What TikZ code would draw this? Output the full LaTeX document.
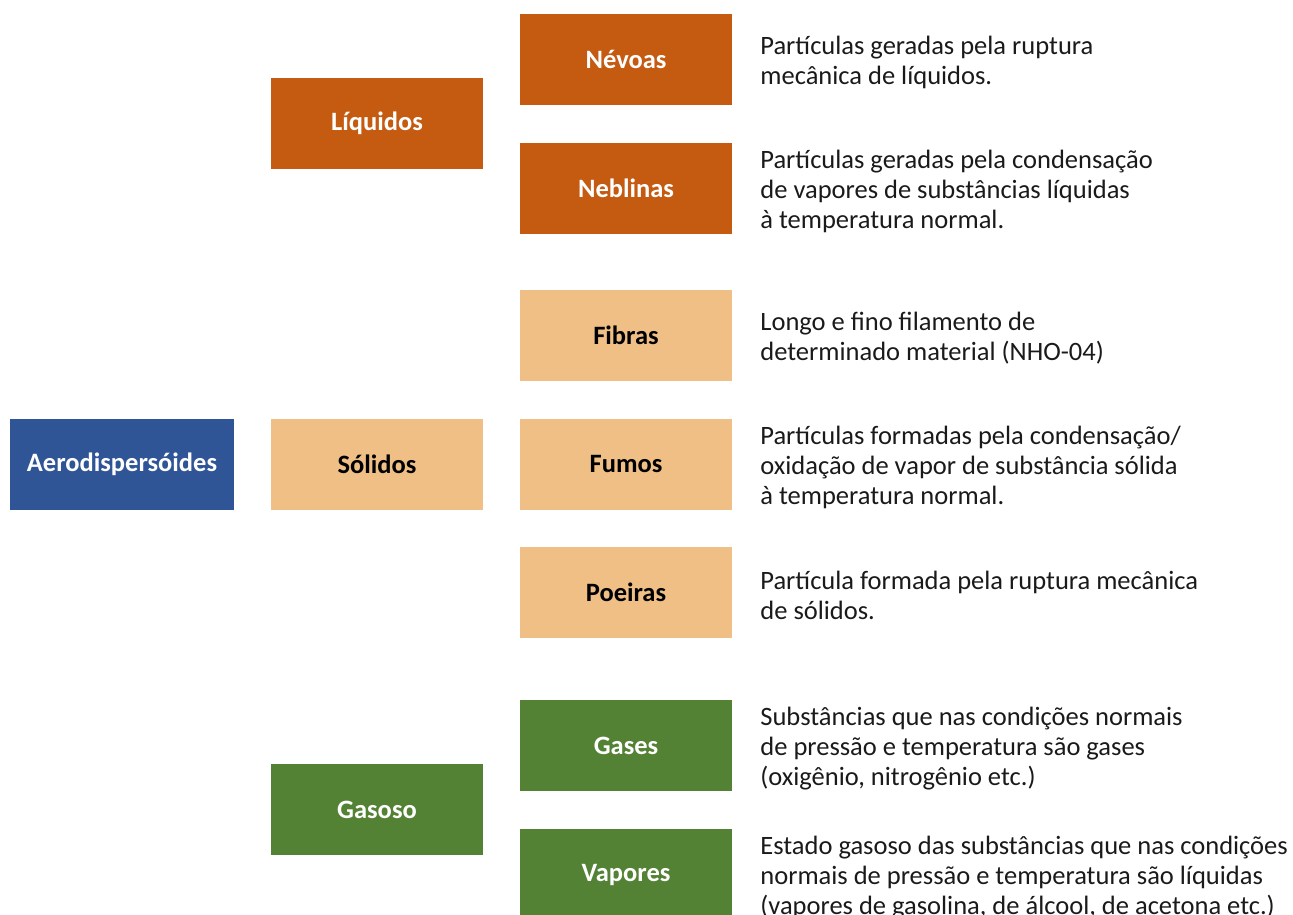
\documentclass[tikz,border=0pt]{standalone}
\usepackage{fontspec}
\setmainfont{Carlito}
\usetikzlibrary{positioning}
\definecolor{Navy}{HTML}{2F5597}
\definecolor{Rust}{HTML}{C55A11}
\definecolor{Sand}{HTML}{F0BF86}
\definecolor{Leaf}{HTML}{548235}
\definecolor{Ink}{HTML}{1A1A1A}

\begin{document}
\begin{tikzpicture}[x=1pt,y=-1pt,
    box/.style={minimum width=212pt,minimum height=91pt,inner sep=0pt,
      font=\fontsize{26.5}{30}\selectfont\bfseries},
    desc/.style={align=left,inner sep=0pt,text=Ink,yshift=-3pt,
      font=\fontsize{26.5}{30}\selectfont}
  ]
    \clip (0,0) rectangle (1293,915);
    % root and the three states
    \node[box,minimum width=224pt,fill=Navy,text=white] (aero) at (122,464.5) {Aerodispersóides};
    \node[box,fill=Rust,text=white] (liq) at (377,123.5) {Líquidos};
    \node[box,fill=Sand,text=black] (sol) at (377,464.5) {Sólidos};
    \node[box,fill=Leaf,text=white] (gas) at (377,809.5) {Gasoso};
    % kinds of each state
    \node[box,fill=Rust,text=white] (nev) at (626,59.5) {Névoas};
    \node[box,fill=Rust,text=white] (neb) at (626,188.5) {Neblinas};
    \node[box,fill=Sand,text=black] (fib) at (626,335.5) {Fibras};
    \node[box,fill=Sand,text=black] (fum) at (626,464.5) {Fumos};
    \node[box,fill=Sand,text=black] (poe) at (626,592.5) {Poeiras};
    \node[box,fill=Leaf,text=white] (gss) at (626,745.5) {Gases};
    \node[box,fill=Leaf,text=white] (vap) at (626,874.5) {Vapores};
    % descriptions
    \node[desc,right=28pt of nev] (dnev) {Partículas geradas pela ruptura\\mecânica de líquidos.};
    \node[desc,right=28pt of neb] (dneb) {Partículas geradas pela condensação\\de vapores de substâncias líquidas\\à temperatura normal.};
    \node[desc,right=28pt of fib] (dfib) {Longo e fino filamento de\\determinado material (NHO-04)};
    \node[desc,right=28pt of fum] (dfum) {Partículas formadas pela condensação/\\oxidação de vapor de substância sólida\\à temperatura normal.};
    \node[desc,right=28pt of poe] (dpoe) {Partícula formada pela ruptura mecânica\\de sólidos.};
    \node[desc,right=28pt of gss] (dgss) {Substâncias que nas condições normais\\de pressão e temperatura são gases\\(oxigênio, nitrogênio etc.)};
    \node[desc,right=28pt of vap] (dvap) {Estado gasoso das substâncias que nas condições\\normais de pressão e temperatura são líquidas\\(vapores de gasolina, de álcool, de acetona etc.)};
  \end{tikzpicture}
\end{document}
